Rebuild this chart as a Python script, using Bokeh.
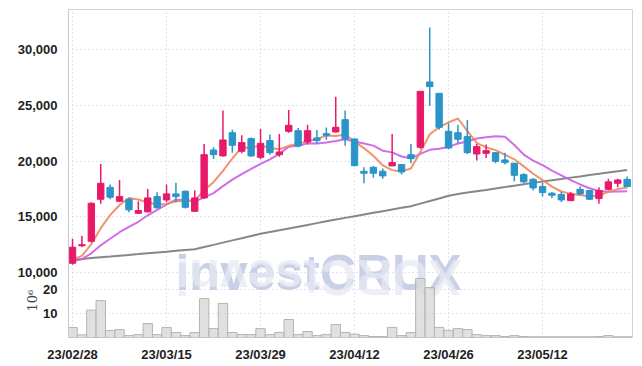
import math
from bokeh.plotting import figure
from bokeh.models import Range1d, FixedTicker, Label, ColumnDataSource, Title
from bokeh.embed import file_html
from bokeh.resources import INLINE

# ---------------- data ----------------
dates = ["23/02/28", "23/03/02", "23/03/03", "23/03/06", "23/03/07", "23/03/08", "23/03/09", "23/03/10",
         "23/03/13", "23/03/14", "23/03/15", "23/03/16", "23/03/17", "23/03/20", "23/03/21", "23/03/22",
         "23/03/23", "23/03/24", "23/03/27", "23/03/28", "23/03/29", "23/03/30", "23/03/31", "23/04/03",
         "23/04/04", "23/04/05", "23/04/06", "23/04/07", "23/04/10", "23/04/11", "23/04/12", "23/04/13",
         "23/04/14", "23/04/17", "23/04/18", "23/04/19", "23/04/20", "23/04/21", "23/04/24", "23/04/25",
         "23/04/26", "23/04/27", "23/04/28", "23/05/02", "23/05/03", "23/05/04", "23/05/08", "23/05/09",
         "23/05/10", "23/05/11", "23/05/12", "23/05/15", "23/05/16", "23/05/17", "23/05/18", "23/05/19",
         "23/05/22", "23/05/23", "23/05/24", "23/05/25"]

opens = [10830, 12400, 12800, 16570, 17640, 16390, 16570, 15310, 15440, 16810,
         16510, 17050, 17290, 15490, 16690, 20990, 20460, 22540, 20870, 22010,
         20330, 21830, 20570, 22660, 22720, 21710, 22070, 22450, 22610, 23710,
         21980, 19080, 19440, 19080, 19560, 19680, 20570, 21230, 27090, 26070,
         22660, 22540, 22190, 20630, 20690, 20750, 20100, 19800, 18780, 18360,
         17710, 17110, 16990, 16450, 17460, 17350, 16630, 17460, 18000, 18360]
highs = [13020, 13300, 16300, 19740, 17890, 18300, 16700, 16390, 17500, 17200,
         17890, 18060, 17350, 17350, 21530, 21230, 24520, 22810, 22300, 22100,
         22870, 22370, 22430, 24580, 22970, 23260, 22790, 23000, 25770, 24520,
         22000, 19440, 19560, 19320, 22430, 19700, 21530, 26250, 31980, 26100,
         23380, 23260, 23680, 21530, 21470, 20800, 20750, 19850, 18900, 18480,
         18060, 17230, 17230, 17230, 17710, 17400, 17640, 18420, 18420, 18600]
lows = [10700, 12270, 12700, 16160, 16570, 16330, 15400, 15250, 15380, 15750,
        16300, 16300, 15750, 15440, 16600, 20190, 20400, 20730, 20690, 20350,
        20150, 20570, 20390, 22540, 21230, 21470, 21530, 21900, 22540, 21380,
        19500, 18000, 18490, 18420, 19560, 18780, 19800, 21100, 24940, 22800,
        21050, 21590, 20630, 20040, 20270, 19800, 19680, 18180, 18000, 17350,
        16810, 16690, 16330, 16390, 16930, 16500, 16160, 17350, 17640, 17640]
closes = [12270, 12500, 16210, 18000, 16750, 16810, 15620, 15560, 16690, 15800,
          17050, 16810, 15850, 16690, 20570, 20570, 21890, 21410, 21650, 20460,
          21590, 20750, 20810, 23200, 21350, 22720, 21830, 22300, 23020, 21980,
          19590, 18900, 18900, 18660, 19860, 19020, 20210, 26250, 26670, 23020,
          21170, 21950, 20750, 21290, 20930, 19970, 19860, 18720, 18130, 17590,
          17170, 16930, 16510, 17050, 17050, 16570, 17350, 18130, 18300, 17710]
ma5 = [11174, 11494, 12556, 13976, 15146, 16054, 16678, 16548, 16286, 16096,
       16144, 16382, 16440, 16440, 17394, 18098, 19114, 20226, 21218, 21196,
       21400, 21172, 21052, 21362, 21540, 21766, 21982, 22280, 22244, 22370,
       21744, 21158, 20478, 19606, 19182, 19068, 19330, 20800, 22402, 23034,
       23464, 23812, 22712, 21636, 21218, 20978, 20560, 20154, 19522, 18854,
       18294, 17708, 17266, 17050, 16942, 16822, 16906, 17230, 17480, 17612]
ma10 = [11037, 11197, 11728, 12438, 13023, 13614, 14086, 14552, 15131, 15621,
        16099, 16530, 16494, 16363, 16745, 17121, 17748, 18333, 18829, 19295,
        19749, 20143, 20639, 21290, 21368, 21583, 21577, 21666, 21803, 21955,
        21755, 21570, 21379, 20925, 20776, 20406, 20244, 20639, 21004, 21108,
        21266, 21571, 21756, 22019, 22126, 22221, 22186, 21433, 20579, 20036,
        19636, 19134, 18710, 18286, 17898, 17558, 17307, 17248, 17265, 17277]
ma60 = [11140, 11210, 11290, 11360, 11430, 11510, 11580, 11650, 11730, 11800,
        11870, 11950, 12020, 12090, 12290, 12480, 12680, 12880, 13070, 13270,
        13470, 13630, 13790, 13950, 14110, 14270, 14430, 14590, 14750, 14900,
        15050, 15200, 15350, 15500, 15650, 15800, 15950, 16180, 16410, 16640,
        16880, 17040, 17170, 17290, 17410, 17540, 17660, 17790, 17910, 18040,
        18160, 18280, 18390, 18510, 18620, 18740, 18850, 18970, 19090, 19200]
volumes = [4.2, 1.1, 11.4, 15.4, 2.9, 3.3, 0.8, 1.2, 5.8, 1.2,
           4.2, 2.1, 0.8, 2.1, 16.2, 3.7, 14.2, 2.1, 1.2, 1.2,
           3.7, 1.2, 2.1, 7.5, 1.2, 2.5, 0.8, 1.2, 5.4, 2.1,
           1.4, 0.8, 0.4, 0.4, 4.2, 0.8, 2.1, 24.6, 20.8, 4.2,
           3.0, 3.7, 3.3, 1.2, 0.8, 0.8, 0.4, 0.8, 0.4, 0.3,
           0.3, 0.3, 0.3, 0.3, 0.3, 0.3, 0.4, 0.8, 0.3, 0.3]

price_ticks = [10000, 15000, 20000, 25000, 30000]
price_tick_labels = ["10,000", "15,000", "20,000", "25,000", "30,000"]
vol_ticks = [10, 20]
vol_tick_labels = ["10", "20"]
vol_unit = "10⁶"
date_ticks = [0, 10, 20, 30, 40, 50]

# ---------------- styles ----------------
UP = "#e8196a"
DOWN = "#2b94c9"
GRID = "#c3c8dc"
FONT = "Liberation Sans"

idx = list(range(len(closes)))
colors = [UP if c >= o else DOWN for o, c in zip(opens, closes)]
src = ColumnDataSource(dict(
    x=idx, open=opens, high=highs, low=lows, close=closes,
    top=[max(o, c) for o, c in zip(opens, closes)],
    bottom=[min(o, c) for o, c in zip(opens, closes)],
    color=colors, vol=volumes, ma5=ma5, ma10=ma10, ma60=ma60))

P0, P1 = 4170, 33590
V0, V1 = 0, 136.7

p = figure(width=638, height=364, output_backend="svg", toolbar_location=None,
           x_range=Range1d(-0.43, 59.57), y_range=Range1d(P0, P1),
           min_border_left=68, min_border_right=6, min_border_top=9, min_border_bottom=27)
p.extra_y_ranges = {"vol": Range1d(V0, V1)}
p.outline_line_color = "#d4d4d4"
p.background_fill_color = "white"

# y axis: price ticks plus the volume ticks located on the shared frame
vol_pos = [round(P0 + v * (P1 - P0) / (V1 - V0), 3) for v in vol_ticks]
p.yaxis.ticker = FixedTicker(ticks=vol_pos + price_ticks)
overrides = {}
for pos, lab in zip(vol_pos, vol_tick_labels):
    overrides[pos] = lab
for t, lab in zip(price_ticks, price_tick_labels):
    overrides[t] = lab
p.yaxis.major_label_overrides = overrides
p.xaxis.ticker = FixedTicker(ticks=date_ticks)
p.xaxis.major_label_overrides = {t: dates[t] for t in date_ticks}

for ax in (p.xaxis[0], p.yaxis[0]):
    ax.major_tick_line_color = None
    ax.minor_tick_line_color = None
    ax.major_label_text_font = FONT
    ax.major_label_text_font_style = "bold"
    ax.major_label_text_font_size = "13px"
    ax.major_label_text_color = "#222222"
    ax.major_label_standoff = 5
p.xaxis.axis_line_color = None
p.xaxis.major_label_standoff = 3
p.yaxis.axis_line_color = "#c8c8c8"

# volume unit shown as a side title next to the volume panel
unit = Title(text=vol_unit, align="left", offset=26, standoff=-50,
             text_font="DejaVu Serif", text_font_style="normal", text_font_size="13px",
             text_color="#444444")
p.add_layout(unit, "left")

p.grid.grid_line_color = GRID
p.grid.grid_line_dash = "1 3"
p.grid.grid_line_width = 1

# watermark and its reflection
wm = Label(x=10.95, y=10000, text="investCRUX", text_font=FONT, text_font_style="bold",
           text_font_size="50px", text_color="#c3cae3", text_alpha=0.9,
           text_align="left", text_baseline="alphabetic", level="underlay")
p.add_layout(wm)
wm2 = Label(x=10.95, y=9640, text="XURCtsevni", text_font=FONT, text_font_style="bold",
            text_font_size="50px", text_color="#e6e9f3", text_alpha=0.75, angle=math.pi,
            text_align="right", text_baseline="alphabetic", level="underlay")
p.add_layout(wm2)

# volume
p.vbar(x="x", top="vol", bottom=0, width=1.0, source=src, y_range_name="vol",
       fill_color="#d6d6d6", fill_alpha=0.75, line_color="#b4b4b4", line_width=1)

# moving averages
p.line("x", "ma60", source=src, line_color="#7a7a7a", line_width=2, line_alpha=0.9)
p.line("x", "ma10", source=src, line_color="#cc5de8", line_width=2, line_alpha=0.9)
p.line("x", "ma5", source=src, line_color="#f0875a", line_width=2, line_alpha=0.9)

# candles
p.segment(x0="x", y0="high", x1="x", y1="low", source=src, line_color="color", line_width=1.5)
p.vbar(x="x", top="top", bottom="bottom", width=0.68, source=src,
       fill_color="color", line_color="color", line_width=1)

open("out.html", "w").write(file_html(p, INLINE))
